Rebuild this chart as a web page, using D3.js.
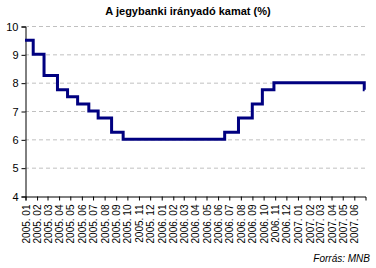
<!DOCTYPE html>
<html>
<head>
<meta charset="utf-8">
<script src="https://cdn.jsdelivr.net/npm/d3@7"></script>
<style>
  body { margin: 0; background: #fff; }
  svg { font-family: "Liberation Sans", Arial, sans-serif; }
</style>
</head>
<body>
<script>
/* MNB base rate, step changes */
var changeDates = ["2005-01-01", "2005-01-23", "2005-02-21", "2005-03-29", "2005-04-25",
                   "2005-05-22", "2005-06-21", "2005-07-16", "2005-08-21", "2005-09-21",
                   "2006-06-20", "2006-07-27", "2006-09-02", "2006-09-29", "2006-10-30",
                   "2007-06-29"];
var rates = [9.5, 9.0, 8.25, 7.75, 7.5, 7.25, 7.0, 6.75, 6.25, 6.0,
             6.25, 6.75, 7.25, 7.75, 8.0, 7.75];
var endDate = "2007-06-30";
var yTicks = [4, 5, 6, 7, 8, 9, 10];
var monthLabels = [];
[2005, 2006, 2007].forEach(function(yr) {
    for (var m = 1; m <= 12; m++) {
        if (yr == 2007 && m > 6) break;
        monthLabels.push(yr + ". " + (m < 10 ? "0" + m : m));
    }
});

var width = 376, height = 268;
var parse = d3.timeParse("%Y-%m-%d");

var svg = d3.select("body").append("svg")
    .attr("width", width)
    .attr("height", height);

var x = d3.scaleTime()
    .domain([new Date(2005, 0, 1), new Date(2007, 6, 1)])
    .range([25, 365]);

var y = d3.scaleLinear()
    .domain([4, 10])
    .range([196, 26]);

/* title */
svg.append("text")
    .attr("x", 188).attr("y", 15)
    .attr("text-anchor", "middle")
    .style("font-size", "11px").style("font-weight", "bold")
    .text("A jegybanki irányadó kamat (%)");

/* gridlines */
svg.selectAll("line.grid")
    .data(yTicks.filter(function(d) { return d > 4; }))
    .enter().append("line")
    .attr("class", "grid")
    .attr("x1", 25).attr("x2", 365)
    .attr("y1", function(d) { return y(d) + 0.5; })
    .attr("y2", function(d) { return y(d) + 0.5; })
    .attr("stroke", "#c0c0c0")
    .attr("stroke-dasharray", "4,3");

/* y axis */
var yAxis = svg.append("g")
    .attr("transform", "translate(25.5,0.5)")
    .call(d3.axisLeft(y).tickValues(yTicks).tickSize(4).tickPadding(3).tickFormat(d3.format("d")));
yAxis.select(".domain").attr("stroke", "#000");
yAxis.selectAll("text").style("font-size", "11px").attr("fill", "#000");

/* x axis: one tick per month */
var monthDates = monthLabels.map(function(d, i) { return new Date(2005, i, 1); });
var xAxis = svg.append("g")
    .attr("transform", "translate(0.5,196.5)")
    .call(d3.axisBottom(x).tickValues(monthDates).tickSize(4)
        .tickFormat(function(d, i) { return monthLabels[i]; }));
xAxis.select(".domain").attr("stroke", "#000");
xAxis.selectAll("text")
    .style("font-size", "10px").attr("fill", "#000")
    .attr("text-anchor", "end")
    .attr("transform", "rotate(-90)")
    .attr("x", -8).attr("y", 0).attr("dy", "0.35em");

/* step line */
var pts = changeDates.map(function(d, i) { return { date: parse(d), v: rates[i] }; });
pts.push({ date: parse(endDate), v: rates[rates.length - 1] });

var line = d3.line()
    .x(function(d) { return x(d.date); })
    .y(function(d) { return y(d.v); })
    .curve(d3.curveStepAfter);

svg.append("path")
    .datum(pts)
    .attr("d", line)
    .attr("fill", "none")
    .attr("stroke", "#000080")
    .attr("stroke-width", 3);

/* source */
svg.append("text")
    .attr("x", 370).attr("y", 262)
    .attr("text-anchor", "end")
    .style("font-size", "10px").style("font-style", "italic")
    .text("Forrás: MNB");
</script>
</body>
</html>
